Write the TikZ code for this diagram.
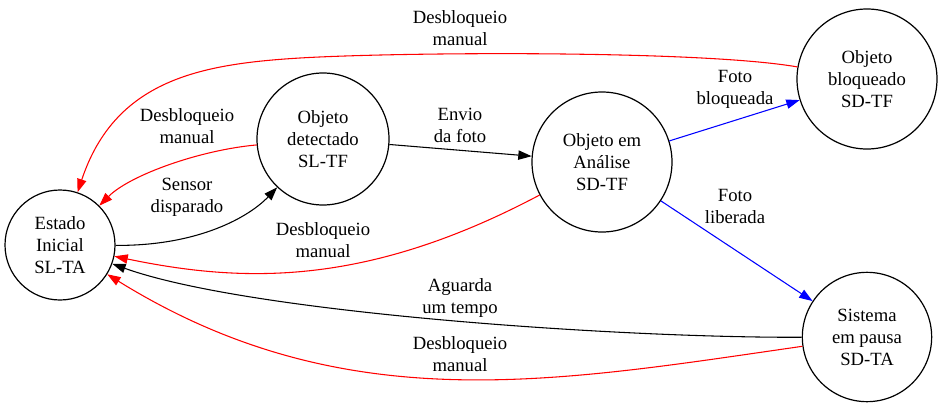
\documentclass[tikz,border=0pt]{standalone}
\usepackage{fontspec}
\setmainfont{Liberation Serif}
\usetikzlibrary{arrows.meta}
\begin{document}
\begin{tikzpicture}[x=0.75pt,y=-0.75pt,>={Triangle[length=10pt,width=7pt]},line width=0.8pt]
	\def \fsz{\fontsize{14pt}{16.5pt}\selectfont}
	\tikzstyle{s-node}=[circle,draw=black!100,line width=0.9pt,inner sep=0pt,align=center,font=\fsz]
	\tikzstyle{annot}=[align=center,font=\fsz]
	\tikzstyle{k-edge}=[->,draw=black]
	\tikzstyle{r-edge}=[->,draw=red]
	\tikzstyle{b-edge}=[->,draw=blue]
	\useasboundingbox (0,0) rectangle (943,407);

	% states
	\node[s-node,minimum size=82.5pt] 	(inicial)	at (60,245)	{Estado\\Inicial\\SL-TA};
	\node[s-node,minimum size=99pt] 	(detectado)	at (323,139)	{Objeto\\detectado\\SL-TF};
	\node[s-node,minimum size=105pt] 	(analise)	at (602,162)	{Objeto em\\Análise\\SD-TF};
	\node[s-node,minimum size=105pt] 	(bloqueado)	at (867,79)	{Objeto\\bloqueado\\SD-TF};
	\node[s-node,minimum size=97pt] 	(pausa)		at (867,337)	{Sistema\\em pausa\\SD-TA};
	\coordinate (top-bend) at (300,58);

	% labels
	\node[annot] (l-sensor)	at (187,197)	{Sensor\\disparado};
	\node[annot] (l-des1)	at (187,126)	{Desbloqueio\\manual};
	\node[annot] (l-envio)	at (460,125)	{Envio\\da foto};
	\node[annot] (l-des2)	at (460,28)	{Desbloqueio\\manual};
	\node[annot] (l-des3)	at (323,240)	{Desbloqueio\\manual};
	\node[annot] (l-bloq)	at (735,89)	{Foto\\bloqueada};
	\node[annot] (l-lib)	at (735,206)	{Foto\\liberada};
	\node[annot] (l-aguarda)	at (460,298)	{Aguarda\\um tempo};
	\node[annot] (l-des4)	at (460,354)	{Desbloqueio\\manual};

	\path
		(detectado)	edge[k-edge]	(analise)
		(analise)	edge[b-edge]	(bloqueado)
		(analise)	edge[b-edge]	(pausa);

	\draw[k-edge] (inicial) .. controls (200,246) and (250,216) .. (detectado);
	\draw[r-edge] (detectado) .. controls (200,150) and (130,175) .. (inicial);
	\draw[r-edge] (analise) .. controls (366,287) and (243,283) .. (inicial);
	\draw[r-edge] (bloqueado) .. controls (700,50) and (400,52) .. (top-bend)
		.. controls (200,64) and (115,80) .. (inicial);
	\draw[k-edge] (pausa) .. controls (619,338) and (249,313) .. (inicial);
	\draw[r-edge] (pausa) .. controls (554,382) and (344,421) .. (inicial);
\end{tikzpicture}
\end{document}
